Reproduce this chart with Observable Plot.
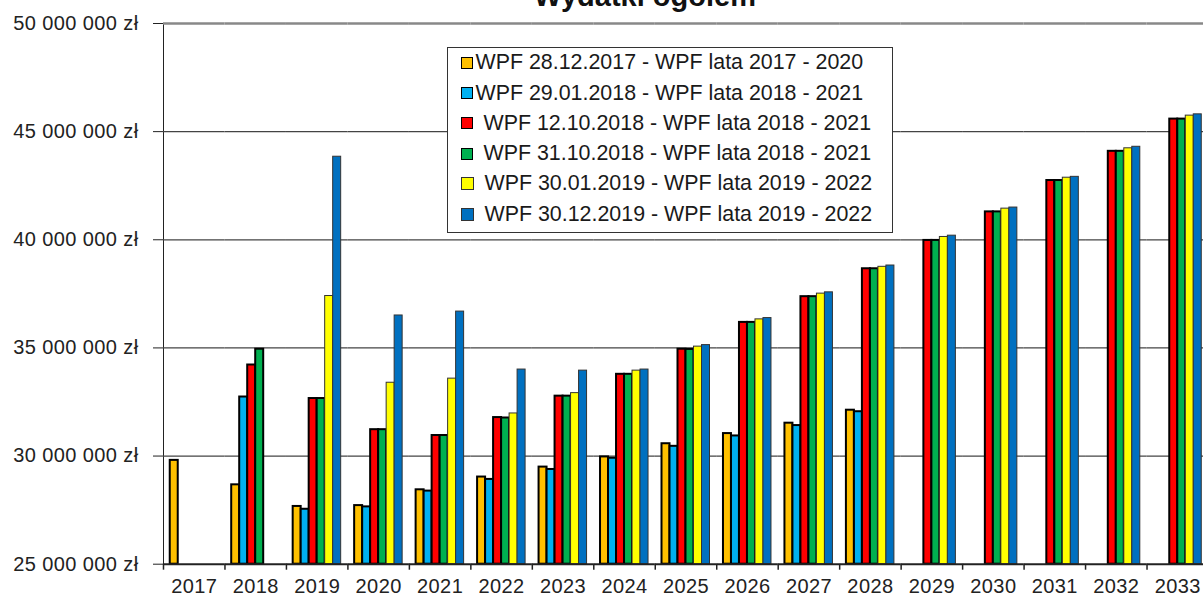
<!DOCTYPE html>
<html>
<head>
<meta charset="utf-8">
<script src="https://cdn.jsdelivr.net/npm/d3@7"></script>
<script src="https://cdn.jsdelivr.net/npm/@observablehq/plot@0.6"></script>
<style>
  html, body { margin: 0; padding: 0; background: #fff; overflow: hidden; }
  #wrap { position: relative; width: 1203px; height: 597px; overflow: hidden; font-family: "Liberation Sans", Arial, sans-serif; }
  #title { position: absolute; left: 0; width: 1290px; top: -18px; text-align: center; font-size: 29px; line-height: 29px; font-weight: bold; color: #111; }
  #legend { position: absolute; left: 447px; top: 47px; width: 444px; height: 184px; border: 1px solid #333; background: #fff; }
  .row { position: absolute; left: 13px; height: 30px; display: flex; align-items: center; font-size: 21.4px; color: #1a1a1a; white-space: nowrap; }
  .sw { width: 10px; height: 10px; border: 1.5px solid #000; flex: none; }
  .row span { margin-left: 10.5px; }
  .row.tight span { margin-left: 2.5px; }
  .row.thin .sw { border: 1px solid #333; width: 11px; height: 11px; }
</style>
</head>
<body>
<div id="wrap">
  <div id="chart"></div>
  <div id="title"></div>
  <div id="legend"></div>
</div>
<script>
const chartTitle = "Wydatki ogółem";
const years = ["2017","2018","2019","2020","2021","2022","2023","2024","2025","2026","2027","2028","2029","2030","2031","2032","2033"];
const seriesNames = [
  "WPF 28.12.2017 - WPF lata 2017 - 2020",
  "WPF 29.01.2018 - WPF lata 2018 - 2021",
  "WPF 12.10.2018 - WPF lata 2018 - 2021",
  "WPF 31.10.2018 - WPF lata 2018 - 2021",
  "WPF 30.01.2019 - WPF lata 2019 - 2022",
  "WPF 30.12.2019 - WPF lata 2019 - 2022"
];
const seriesColors = ["#FFC000", "#00B0F0", "#FF0000", "#00B050", "#FFFF00", "#0070C0"];

// values in zł, null = no bar
const wpf20171228 = [29800000, 28670000, 27670000, 27710000, 28440000, 29030000, 29490000, 29960000, 30570000, 31040000, 31520000, 32120000, null, null, null, null, null];
const wpf20180129 = [null, 32730000, 27540000, 27650000, 28380000, 28920000, 29380000, 29900000, 30450000, 30930000, 31410000, 32050000, null, null, null, null, null];
const wpf20181012 = [null, 34210000, 32660000, 31220000, 30950000, 31780000, 32770000, 33780000, 34940000, 36180000, 37370000, 38660000, 39970000, 41290000, 42740000, 44090000, 45580000];
const wpf20181031 = [null, 34940000, 32660000, 31220000, 30950000, 31760000, 32770000, 33780000, 34930000, 36180000, 37370000, 38660000, 39970000, 41290000, 42740000, 44090000, 45580000];
const wpf20190130 = [null, null, 37400000, 33390000, 33580000, 31970000, 32910000, 33950000, 35060000, 36320000, 37510000, 38750000, 40130000, 41440000, 42870000, 44230000, 45740000];
const wpf20191230 = [null, null, 43840000, 36500000, 36680000, 34000000, 33950000, 34000000, 35130000, 36380000, 37570000, 38810000, 40190000, 41490000, 42910000, 44300000, 45800000];
const yTicks = [25000000, 30000000, 35000000, 40000000, 45000000, 50000000];

const seriesValues = [wpf20171228, wpf20180129, wpf20181012, wpf20181031, wpf20190130, wpf20191230];
const thinSeries = [seriesNames[4], seriesNames[5]];

const data = [];
years.forEach((yr, i) => {
  seriesNames.forEach((s, j) => {
    const v = seriesValues[j][i];
    if (v != null) data.push({year: yr, series: s, value: v});
  });
});

const fmt = v => d3.format(",")(v).replace(/,/g, " ") + " zł";
const yMin = yTicks[0], yMax = yTicks[yTicks.length - 1];

const chart = Plot.plot({
  width: 1203,
  height: 597,
  marginTop: 23,
  marginBottom: 33.3,
  marginLeft: 163,
  marginRight: 0,
  style: {fontFamily: "'Liberation Sans', Arial, sans-serif", fontSize: "20px", color: "#222", background: "transparent", overflow: "hidden", letterSpacing: "0.4px"},
  fx: {domain: years, paddingInner: 0, paddingOuter: 0, round: false, range: [163, 1208], label: null, tickSize: 0, tickPadding: 15},
  x: {domain: seriesNames, axis: null, paddingInner: 0, paddingOuter: 0.842, round: false},
  y: {domain: [yMin, yMax], ticks: yTicks, tickFormat: fmt, tickSize: 10, tickPadding: 15, label: null, line: true},
  color: {domain: seriesNames, range: seriesColors},
  marks: [
    Plot.ruleY(yTicks.slice(1, -1), {stroke: "#444", strokeWidth: 1.3}),
    Plot.ruleY([yMax], {stroke: "#888", strokeWidth: 2.5}),
    Plot.barY(data.filter(d => !thinSeries.includes(d.series)), {fx: "year", x: "series", y1: yMin, y2: "value", fill: "series", stroke: "#000", strokeWidth: 2}),
    Plot.barY(data.filter(d => thinSeries.includes(d.series)), {fx: "year", x: "series", y1: yMin, y2: "value", fill: "series", stroke: "#333", strokeWidth: 1}),
    Plot.ruleY([yMin], {stroke: "#222", strokeWidth: 2}),
    Plot.ruleX([seriesNames[0]], {x: d => d, y1: yMin, y2: yMin, insetBottom: -6, dx: -10.74, stroke: "#222", strokeWidth: 1.5})
  ]
});
document.getElementById("chart").appendChild(chart);

document.getElementById("title").textContent = chartTitle;
const legend = document.getElementById("legend");
seriesNames.forEach((s, j) => {
  const row = document.createElement("div");
  row.className = "row" + (j < 2 ? " tight" : "") + (thinSeries.includes(s) ? " thin" : "");
  row.style.top = (14.7 + 30.3 * j - 15) + "px";
  const sw = document.createElement("div");
  sw.className = "sw";
  sw.style.background = seriesColors[j];
  const t = document.createElement("span");
  t.textContent = s;
  row.appendChild(sw);
  row.appendChild(t);
  legend.appendChild(row);
});
</script>
</body>
</html>
